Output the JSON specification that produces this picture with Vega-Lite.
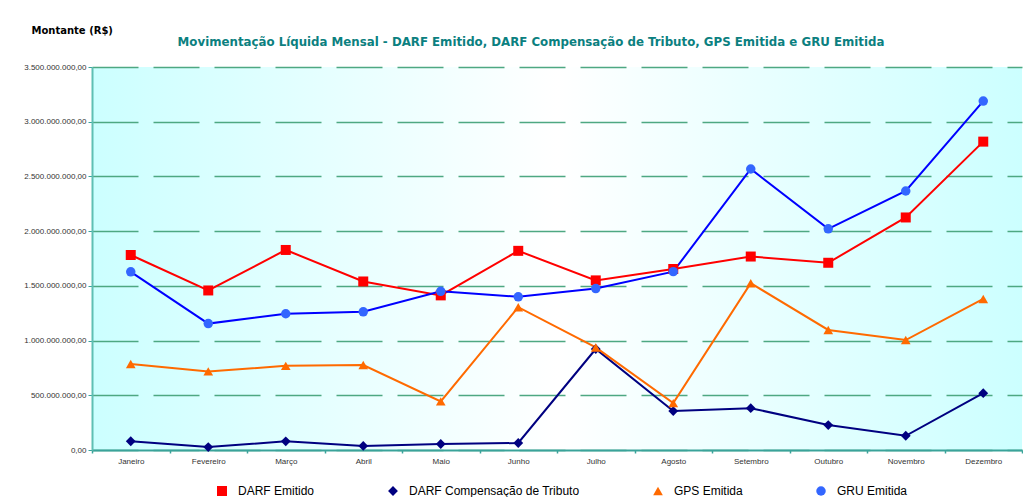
{
  "$schema": "https://vega.github.io/schema/vega-lite/v6.json",
  "width": 930,
  "height": 383,
  "padding": {"left": 23, "top": 25, "right": 0, "bottom": 0},
  "background": "white",
  "config": {
    "locale": {"number": {"decimal": ",", "thousands": ".", "grouping": [3], "currency": ["R$ ", ""]}},
    "view": {"stroke": null, "fill": {"gradient": "linear", "x1": 0, "x2": 1, "y1": 0, "y2": 0, "stops": [{"offset": 0, "color": "#ccffff"}, {"offset": 0.5, "color": "#ffffff"}, {"offset": 1, "color": "#ccffff"}]}},
    "font": "Liberation Sans"
  },
  "title": {
    "text": "Movimentação Líquida Mensal - DARF Emitido, DARF Compensação de Tributo, GPS Emitida e GRU Emitida",
    "font": "DejaVu Sans",
    "fontSize": 11.8,
    "fontWeight": "bold",
    "color": "#0b8080",
    "frame": "group",
    "anchor": "middle",
    "dx": -26,
    "dy": 24,
    "offset": 0
  },
  "data": {"values": [
    {"mes": "Janeiro", "serie": "DARF Emitido", "valor": 1782000000},
    {"mes": "Fevereiro", "serie": "DARF Emitido", "valor": 1458000000},
    {"mes": "Março", "serie": "DARF Emitido", "valor": 1828000000},
    {"mes": "Abril", "serie": "DARF Emitido", "valor": 1540000000},
    {"mes": "Maio", "serie": "DARF Emitido", "valor": 1413000000},
    {"mes": "Junho", "serie": "DARF Emitido", "valor": 1820000000},
    {"mes": "Julho", "serie": "DARF Emitido", "valor": 1550000000},
    {"mes": "Agosto", "serie": "DARF Emitido", "valor": 1654000000},
    {"mes": "Setembro", "serie": "DARF Emitido", "valor": 1768000000},
    {"mes": "Outubro", "serie": "DARF Emitido", "valor": 1711000000},
    {"mes": "Novembro", "serie": "DARF Emitido", "valor": 2125000000},
    {"mes": "Dezembro", "serie": "DARF Emitido", "valor": 2818000000},
    {"mes": "Janeiro", "serie": "DARF Compensação de Tributo", "valor": 80000000},
    {"mes": "Fevereiro", "serie": "DARF Compensação de Tributo", "valor": 27000000},
    {"mes": "Março", "serie": "DARF Compensação de Tributo", "valor": 79000000},
    {"mes": "Abril", "serie": "DARF Compensação de Tributo", "valor": 37000000},
    {"mes": "Maio", "serie": "DARF Compensação de Tributo", "valor": 55000000},
    {"mes": "Junho", "serie": "DARF Compensação de Tributo", "valor": 64000000},
    {"mes": "Julho", "serie": "DARF Compensação de Tributo", "valor": 923000000},
    {"mes": "Agosto", "serie": "DARF Compensação de Tributo", "valor": 356000000},
    {"mes": "Setembro", "serie": "DARF Compensação de Tributo", "valor": 382000000},
    {"mes": "Outubro", "serie": "DARF Compensação de Tributo", "valor": 228000000},
    {"mes": "Novembro", "serie": "DARF Compensação de Tributo", "valor": 130000000},
    {"mes": "Dezembro", "serie": "DARF Compensação de Tributo", "valor": 519000000},
    {"mes": "Janeiro", "serie": "GPS Emitida", "valor": 786000000},
    {"mes": "Fevereiro", "serie": "GPS Emitida", "valor": 718000000},
    {"mes": "Março", "serie": "GPS Emitida", "valor": 769000000},
    {"mes": "Abril", "serie": "GPS Emitida", "valor": 777000000},
    {"mes": "Maio", "serie": "GPS Emitida", "valor": 444000000},
    {"mes": "Junho", "serie": "GPS Emitida", "valor": 1305000000},
    {"mes": "Julho", "serie": "GPS Emitida", "valor": 937000000},
    {"mes": "Agosto", "serie": "GPS Emitida", "valor": 428000000},
    {"mes": "Setembro", "serie": "GPS Emitida", "valor": 1524000000},
    {"mes": "Outubro", "serie": "GPS Emitida", "valor": 1097000000},
    {"mes": "Novembro", "serie": "GPS Emitida", "valor": 1005000000},
    {"mes": "Dezembro", "serie": "GPS Emitida", "valor": 1380000000},
    {"mes": "Janeiro", "serie": "GRU Emitida", "valor": 1628000000},
    {"mes": "Fevereiro", "serie": "GRU Emitida", "valor": 1155000000},
    {"mes": "Março", "serie": "GRU Emitida", "valor": 1245000000},
    {"mes": "Abril", "serie": "GRU Emitida", "valor": 1263000000},
    {"mes": "Maio", "serie": "GRU Emitida", "valor": 1450000000},
    {"mes": "Junho", "serie": "GRU Emitida", "valor": 1400000000},
    {"mes": "Julho", "serie": "GRU Emitida", "valor": 1475000000},
    {"mes": "Agosto", "serie": "GRU Emitida", "valor": 1630000000},
    {"mes": "Setembro", "serie": "GRU Emitida", "valor": 2568000000},
    {"mes": "Outubro", "serie": "GRU Emitida", "valor": 2021000000},
    {"mes": "Novembro", "serie": "GRU Emitida", "valor": 2367000000},
    {"mes": "Dezembro", "serie": "GRU Emitida", "valor": 3189000000}
  ]},
  "encoding": {
    "x": {
      "field": "mes",
      "type": "nominal",
      "sort": ["Janeiro", "Fevereiro", "Março", "Abril", "Maio", "Junho", "Julho", "Agosto", "Setembro", "Outubro", "Novembro", "Dezembro"],
      "scale": {"type": "band", "paddingInner": 0, "paddingOuter": 0},
      "axis": {
        "title": null,
        "labelAngle": 0,
        "labelFont": "Liberation Sans",
        "labelFontSize": 8,
        "labelColor": "#333333",
        "labelPadding": 4,
        "tickBand": "extent",
        "tickSize": 3,
        "tickColor": "#3aa39a",
        "tickWidth": 1.5,
        "domainColor": "#3aa39a",
        "domainWidth": 2,
        "grid": false
      }
    },
    "y": {
      "field": "valor",
      "type": "quantitative",
      "scale": {"domain": [0, 3500000000], "nice": false},
      "axis": {
        "title": "Montante (R$)",
        "titleAngle": 0,
        "titleAlign": "left",
        "titleBaseline": "middle",
        "titleX": -61,
        "titleY": -37,
        "titleFont": "DejaVu Sans",
        "titleFontSize": 10,
        "titleFontWeight": "bold",
        "titleColor": "#000000",
        "values": [0, 500000000, 1000000000, 1500000000, 2000000000, 2500000000, 3000000000, 3500000000],
        "format": ",.2f",
        "labelFont": "Liberation Sans",
        "labelFontSize": 8,
        "labelColor": "#333333",
        "labelPadding": 2,
        "tickSize": 4,
        "tickColor": "#3aa39a",
        "domainColor": "#5fbfb3",
        "domainWidth": 2,
        "grid": true,
        "gridColor": "#4ea882",
        "gridWidth": 1.5,
        "gridDash": [46, 15]
      }
    }
  },
  "layer": [
    {
      "mark": {"type": "line", "strokeWidth": 2},
      "encoding": {
        "color": {
          "field": "serie",
          "type": "nominal",
          "scale": {"domain": ["DARF Emitido", "DARF Compensação de Tributo", "GPS Emitida", "GRU Emitida"], "range": ["#ff0000", "#000080", "#ff6a00", "#0000ff"]},
          "legend": {
            "title": null,
            "orient": "none",
            "direction": "horizontal",
            "legendX": 124,
            "legendY": 418,
            "symbolSize": 784,
            "labelFont": "Liberation Sans",
            "labelFontSize": 12,
            "labelColor": "#000000",
            "labelOffset": 10,
            "labelLimit": 400,
            "columnPadding": 72,
            "encode": {
              "symbols": {
                "update": {
                  "shape": {"signal": "datum.value === 'DARF Emitido' ? 'M-1,-0.07H1V0.07H-1ZM-0.3,-0.3H0.3V0.3H-0.3Z' : datum.value === 'DARF Compensação de Tributo' ? 'M-1,-0.07H1V0.07H-1ZM0,-0.34L0.34,0L0,0.34L-0.34,0Z' : datum.value === 'GPS Emitida' ? 'M-1,-0.07H1V0.07H-1ZM0,-0.3L0.3,0.24L-0.3,0.24Z' : 'M-1,-0.07H1V0.07H-1ZM-0.3,0A0.3,0.3,0,1,0,0.3,0A0.3,0.3,0,1,0,-0.3,0Z'"},
                  "size": {"value": 784},
                  "fill": {"signal": "datum.value === 'DARF Emitido' ? '#ff0000' : datum.value === 'DARF Compensação de Tributo' ? '#000080' : datum.value === 'GPS Emitida' ? '#ff6a00' : '#1f3fff'"},
                  "stroke": {"value": null},
                  "strokeWidth": {"value": 0},
                  "fillOpacity": {"value": 1},
                  "opacity": {"value": 1}
                }
              }
            }
          }
        }
      }
    },
    {
      "mark": {"type": "point", "filled": true, "opacity": 1},
      "encoding": {
        "fill": {
          "field": "serie",
          "type": "nominal",
          "scale": {"domain": ["DARF Emitido", "DARF Compensação de Tributo", "GPS Emitida", "GRU Emitida"], "range": ["#ff0000", "#000080", "#ff6a00", "#3366ff"]},
          "legend": null
        },
        "shape": {
          "field": "serie",
          "type": "nominal",
          "scale": {"domain": ["DARF Emitido", "DARF Compensação de Tributo", "GPS Emitida", "GRU Emitida"], "range": ["square", "diamond", "triangle-up", "circle"]},
          "legend": null
        },
        "size": {
          "field": "serie",
          "type": "nominal",
          "scale": {"domain": ["DARF Emitido", "DARF Compensação de Tributo", "GPS Emitida", "GRU Emitida"], "range": [100, 90, 55, 95]},
          "legend": null
        }
      }
    }
  ]
}
